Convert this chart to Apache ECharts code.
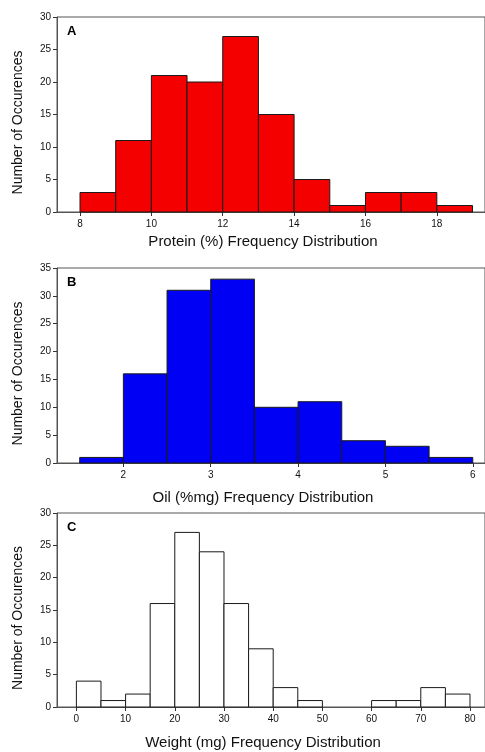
<!DOCTYPE html>
<html>
<head>
<meta charset="utf-8">
<script src="https://cdn.jsdelivr.net/npm/echarts@6/dist/echarts.min.js"></script>
<style>
  html, body { margin: 0; padding: 0; background: #fff; }
  #chart { width: 485px; height: 752px; }
</style>
</head>
<body>
<div id="chart"></div>
<script>
// bin edges (start of each bin) and counts
const proteinBins = [8, 9, 10, 11, 12, 13, 14, 15, 16, 17, 18];
const proteinCounts = [3, 11, 21, 20, 27, 15, 5, 1, 3, 3, 1];
const proteinTicks = [8, 10, 12, 14, 16, 18];

const oilBins = [1.5, 2, 2.5, 3, 3.5, 4, 4.5, 5, 5.5];
const oilCounts = [1, 16, 31, 33, 10, 11, 4, 3, 1];
const oilTicks = [2, 3, 4, 5, 6];

const weightBins = [0, 5, 10, 15, 20, 25, 30, 35, 40, 45, 50, 55, 60, 65, 70, 75];
const weightCounts = [4, 1, 2, 16, 27, 24, 16, 9, 3, 1, 0, 0, 1, 1, 3, 2];
const weightTicks = [0, 10, 20, 30, 40, 50, 60, 70, 80];

const panelLabels = ['A', 'B', 'C'];
const xTitles = ['Protein (%) Frequency Distribution', 'Oil (%mg) Frequency Distribution', 'Weight (mg) Frequency Distribution'];
const yTitle = 'Number of Occurences';

const font = 'Liberation Sans, Arial, sans-serif';

const panels = [
  { bins: proteinBins, counts: proteinCounts, w: 1, ticks: proteinTicks, min: 7.355, max: 19.35, ymax: 30, top: 17, height: 195, fill: '#f40000', gap: 22 },
  { bins: oilBins, counts: oilCounts, w: 0.5, ticks: oilTicks, min: 1.24, max: 6.14, ymax: 35, top: 268, height: 195, fill: '#0000f4', gap: 27 },
  { bins: weightBins, counts: weightCounts, w: 5, ticks: weightTicks, min: -3.94, max: 83.05, ymax: 30, top: 513, height: 194, fill: '#ffffff', gap: 28 }
];

const chart = echarts.init(document.getElementById('chart'));

const grid = [], xAxis = [], yAxis = [], series = [], graphic = [];

panels.forEach((p, i) => {
  grid.push({
    left: 57, top: p.top, width: 440, height: p.height,
    show: true, borderColor: '#555', borderWidth: 1, backgroundColor: 'transparent'
  });
  xAxis.push({
    type: 'value', gridIndex: i, min: p.min, max: p.max,
    splitLine: { show: false },
    axisLine: { onZero: false, lineStyle: { color: '#555', width: 1 } },
    axisTick: { show: true, length: 4, customValues: p.ticks, lineStyle: { color: '#333' } },
    axisLabel: { customValues: p.ticks, color: '#111', fontSize: 10, fontFamily: font, margin: 7 },
    name: xTitles[i], nameLocation: 'middle', nameGap: p.gap,
    nameTextStyle: { color: '#111', fontSize: 15, fontFamily: font, padding: [0, 16, 0, 0] }
  });
  yAxis.push({
    type: 'value', gridIndex: i, min: 0, max: p.ymax, interval: 5,
    splitLine: { show: false },
    axisLine: { show: true, onZero: false, lineStyle: { color: '#555', width: 1 } },
    axisTick: { show: true, length: 4, lineStyle: { color: '#333' } },
    axisLabel: { color: '#111', fontSize: 10, fontFamily: font, margin: 6 },
    name: yTitle, nameLocation: 'middle', nameGap: 32, nameRotate: 90,
    nameTextStyle: { color: '#111', fontSize: 14, fontFamily: font, padding: [0, 16, 0, 0] }
  });
  series.push({
    type: 'custom', xAxisIndex: i, yAxisIndex: i,
    data: p.bins.map((b, k) => [b, b + p.w, p.counts[k]]),
    renderItem: (params, api) => {
      const a = api.coord([api.value(0), api.value(2)]);
      const b = api.coord([api.value(1), 0]);
      if (api.value(2) === 0) return null;
      return {
        type: 'rect',
        shape: { x: a[0], y: a[1], width: b[0] - a[0], height: b[1] - a[1] },
        style: { fill: p.fill, stroke: '#1a1a1a', lineWidth: 1 }
      };
    }
  });
  graphic.push({
    type: 'text', left: 67, top: p.top + 8,
    style: { text: panelLabels[i], font: 'bold 13px ' + font, fill: '#000' }
  });
});

chart.setOption({
  animation: false,
  grid, xAxis, yAxis, series, graphic
});
</script>
</body>
</html>
